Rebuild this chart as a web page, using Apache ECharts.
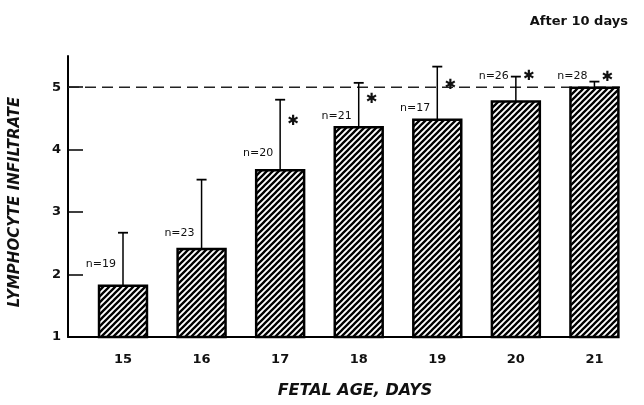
<!DOCTYPE html>
<html>
<head>
<meta charset="utf-8">
<script src="https://cdn.jsdelivr.net/npm/echarts@6/dist/echarts.min.js"></script>
<style>
html,body{margin:0;padding:0;background:#fff;}
#chart{width:644px;height:405px;}
</style>
</head>
<body>
<div id="chart"></div>
<script>
// ---- data ----
const days = [15, 16, 17, 18, 19, 20, 21];
const meanScore = [1.82, 2.41, 3.67, 4.36, 4.48, 4.77, 4.99];
const sdScore = [0.85, 1.11, 1.13, 0.71, 0.85, 0.40, 0.10];
const nCount = [19, 23, 20, 21, 17, 26, 28];
const labelAt = [2.17, 2.66, 3.94, 4.53, 4.66, 5.17, 5.17];
const starAt = [null, null, 4.45, 4.81, 5.03, 5.17, 5.16];
const yTicks = [1, 2, 3, 4, 5];
const refLevel = 5;

// ---- hatch pattern ----
function makeHatch() {
  const c = document.createElement('canvas');
  c.width = 6; c.height = 6;
  const g = c.getContext('2d');
  g.fillStyle = '#fff';
  g.fillRect(0, 0, 6, 6);
  g.strokeStyle = '#000';
  g.lineWidth = 2.3;
  g.beginPath();
  g.moveTo(-1, 7); g.lineTo(7, -1);
  g.moveTo(-2, 2); g.lineTo(2, -2);
  g.moveTo(4, 8); g.lineTo(8, 4);
  g.stroke();
  return c;
}
const hatch = { image: makeHatch(), repeat: 'repeat' };

const barData = days.map((d, i) => [d, meanScore[i]]);
const errData = days.map((d, i) => [d, meanScore[i], meanScore[i] + sdScore[i]]);
const nData = days.map((d, i) => [d, labelAt[i], nCount[i]]);
const starData = days.map((d, i) => [d, starAt[i]]).filter(p => p[1] != null);

const chart = echarts.init(document.getElementById('chart'), null, { renderer: 'canvas' });

const tickFont = { fontFamily: 'DejaVu Sans', fontWeight: 'bold', fontSize: 13, color: '#111' };

chart.setOption({
  animation: false,
  backgroundColor: '#fff',
  title: {
    text: 'After 10 days',
    right: 11,
    top: 10,
    textStyle: { fontFamily: 'DejaVu Sans', fontWeight: 'bold', fontSize: 13, color: '#111' }
  },
  grid: { left: 68, right: 26, top: 56, bottom: 68, containLabel: false },
  xAxis: {
    type: 'value',
    min: 14.3,
    max: 21.3,
    splitLine: { show: false },
    axisTick: { show: false },
    axisLine: { show: true, onZero: false, lineStyle: { color: '#000', width: 2 } },
    axisLabel: Object.assign({ customValues: days, margin: 16 }, tickFont),
    name: 'FETAL AGE, DAYS',
    nameLocation: 'middle',
    nameGap: 46,
    nameTextStyle: { fontFamily: 'DejaVu Sans', fontWeight: 'bold', fontStyle: 'italic', fontSize: 16, color: '#111', padding: [0, 0, 0, 24] }
  },
  yAxis: {
    type: 'value',
    min: 1,
    max: 5.5,
    splitLine: { show: false },
    axisLine: { show: true, lineStyle: { color: '#000', width: 2 } },
    axisTick: { show: true, inside: true, length: 15, customValues: yTicks, lineStyle: { color: '#000', width: 1.5 } },
    axisLabel: Object.assign({ customValues: yTicks, margin: 7 }, tickFont),
    name: 'LYMPHOCYTE INFILTRATE',
    nameLocation: 'middle',
    nameRotate: 90,
    nameGap: 45,
    nameTextStyle: { fontFamily: 'DejaVu Sans', fontWeight: 'bold', fontStyle: 'italic', fontSize: 15, color: '#111', padding: [0, 11, 0, 0] }
  },
  series: [
    {
      type: 'line',
      data: [[14.3, refLevel], [21.8, refLevel]],
      clip: false,
      symbol: 'none',
      silent: true,
      z: 1,
      lineStyle: { color: '#222', width: 1.6, type: [11, 6] }
    },
    {
      type: 'custom',
      data: barData,
      z: 3,
      renderItem: function (params, api) {
        const x = api.value(0), v = api.value(1);
        const p0 = api.coord([x, 1]);
        const p1 = api.coord([x, v]);
        const w = api.size([0.61, 0])[0];
        return {
          type: 'rect',
          shape: { x: p0[0] - w / 2, y: p1[1], width: w, height: p0[1] - p1[1] },
          style: { fill: hatch, stroke: '#000', lineWidth: 2.5 }
        };
      }
    },
    {
      type: 'custom',
      data: errData,
      z: 2,
      renderItem: function (params, api) {
        const x = api.value(0);
        const pb = api.coord([x, api.value(1)]);
        const pt = api.coord([x, api.value(2)]);
        return {
          type: 'group',
          children: [
            { type: 'line', shape: { x1: pb[0], y1: pb[1], x2: pt[0], y2: pt[1] }, style: { stroke: '#000', lineWidth: 1.5 } },
            { type: 'line', shape: { x1: pt[0] - 5, y1: pt[1], x2: pt[0] + 5, y2: pt[1] }, style: { stroke: '#000', lineWidth: 1.8 } }
          ]
        };
      }
    },
    {
      type: 'custom',
      data: nData,
      z: 4,
      renderItem: function (params, api) {
        const p = api.coord([api.value(0), api.value(1)]);
        return {
          type: 'text',
          x: p[0] - 7,
          y: p[1],
          style: {
            text: 'n=' + api.value(2),
            align: 'right',
            verticalAlign: 'middle',
            fontFamily: 'DejaVu Sans',
            fontSize: 11,
            fill: '#111'
          }
        };
      }
    },
    {
      type: 'custom',
      data: starData,
      z: 4,
      renderItem: function (params, api) {
        const p = api.coord([api.value(0), api.value(1)]);
        return {
          type: 'text',
          x: p[0] + 13,
          y: p[1],
          style: {
            text: '\u2731',
            align: 'center',
            verticalAlign: 'middle',
            fontFamily: 'DejaVu Sans',
            fontWeight: 'bold',
            fontSize: 14,
            fill: '#111'
          }
        };
      }
    }
  ]
});
</script>
</body>
</html>
